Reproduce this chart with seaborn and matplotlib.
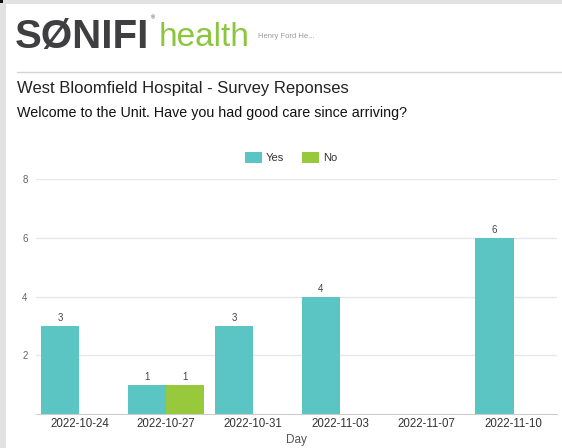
import matplotlib
matplotlib.use("Agg")
import matplotlib.pyplot as plt
import seaborn as sns
import pandas as pd
from matplotlib.patches import Rectangle

days = ["2022-10-24", "2022-10-27", "2022-10-31", "2022-11-03", "2022-11-07", "2022-11-10"]
yes_counts = [3, 1, 3, 4, 0, 6]
no_counts = [0, 1, 0, 0, 0, 0]
answers = ["Yes", "No"]
colors = {"Yes": "#5bc5c4", "No": "#98c93c"}

df = pd.DataFrame({
    "Day": days * 2,
    "answer": ["Yes"] * len(days) + ["No"] * len(days),
    "count": yes_counts + no_counts,
})

sns.set_theme(style="white")
plt.rcParams["font.family"] = ["Liberation Sans", "DejaVu Sans"]

fig = plt.figure(figsize=(5.62, 4.48), dpi=100)
fig.patch.set_facecolor("white")

# page frame bits
fig.patches.append(Rectangle((0, 0), 6 / 562, 1, transform=fig.transFigure,
                             facecolor="#e2e2e2", edgecolor="none", zorder=0))
fig.patches.append(Rectangle((0, 1 - 4 / 448), 1, 4 / 448, transform=fig.transFigure,
                             facecolor="#e2e2e2", edgecolor="none", zorder=0))
fig.patches.append(Rectangle((0, 1 - 3 / 448), 3 / 562, 3 / 448, transform=fig.transFigure,
                             facecolor="#111111", edgecolor="none", zorder=1))

# header / logo
fig.text(15 / 562, 1 - 48 / 448, "SØNIFI", fontsize=29, fontweight="bold",
         color="#3f3f41", ha="left", va="baseline")
fig.text(151 / 562, 1 - 19 / 448, "®", fontsize=4, color="#3f3f41", ha="left", va="baseline")
fig.text(159 / 562, 1 - 46 / 448, "health", fontsize=24, color="#8cc63e",
         ha="left", va="baseline")
fig.text(258 / 562, 1 - 36 / 448, "Henry Ford He...", fontsize=5.5, color="#9a9a9a",
         ha="left", va="center")
fig.add_artist(plt.Line2D([17 / 562, 1], [1 - 72 / 448, 1 - 72 / 448],
                          transform=fig.transFigure, color="#d4d4d4", linewidth=1))
fig.text(17 / 562, 1 - 88 / 448, "West Bloomfield Hospital - Survey Reponses",
         fontsize=12, color="#222222", ha="left", va="center")
fig.text(17 / 562, 1 - 113 / 448, "Welcome to the Unit. Have you had good care since arriving?",
         fontsize=10.3, color="#111111", ha="left", va="center")

ax = fig.add_axes([36 / 562, 34 / 448, 521 / 562, 235 / 448])
sns.barplot(data=df, x="Day", y="count", hue="answer", hue_order=answers,
            palette=colors, width=0.88, linewidth=0, saturation=1, ax=ax, zorder=3)

for container in ax.containers:
    labels = [f"{int(b.get_height())}" if b.get_height() > 0 else "" for b in container]
    ax.bar_label(container, labels=labels, fontsize=7, color="#444444", padding=2)

ax.set_ylim(0, 8)
ax.set_xlim(-0.5, len(days) - 0.5)
ax.set_yticks([2, 4, 6, 8])
ax.yaxis.grid(True, color="#e6e6ee", linewidth=1, zorder=0)
ax.tick_params(axis="y", length=0, pad=6, labelsize=7, labelcolor="#666666")
ax.set_xticks(range(len(days)))
ax.set_xticks([i - 0.5 for i in range(len(days) + 1)], minor=True)
ax.tick_params(axis="x", which="major", length=0, pad=3, labelsize=8.3, labelcolor="#333333")
ax.tick_params(axis="x", which="minor", length=5, width=0.8, color="#cccccc", direction="out")
ax.set_xlabel("Day", fontsize=8.5, color="#555555", labelpad=3)
ax.set_ylabel("")
for side in ["top", "right", "left"]:
    ax.spines[side].set_visible(False)
ax.spines["bottom"].set_color("#cccccc")
ax.spines["bottom"].set_linewidth(0.8)

ax.legend(loc="center", bbox_to_anchor=(0.49, 1.09), ncol=2, frameon=False,
          fontsize=8, handlelength=1.5, handleheight=1.1, columnspacing=1.6,
          handletextpad=0.4, labelcolor="#333333")

fig.savefig("out.png", dpi=100, facecolor="white")
plt.close(fig)
